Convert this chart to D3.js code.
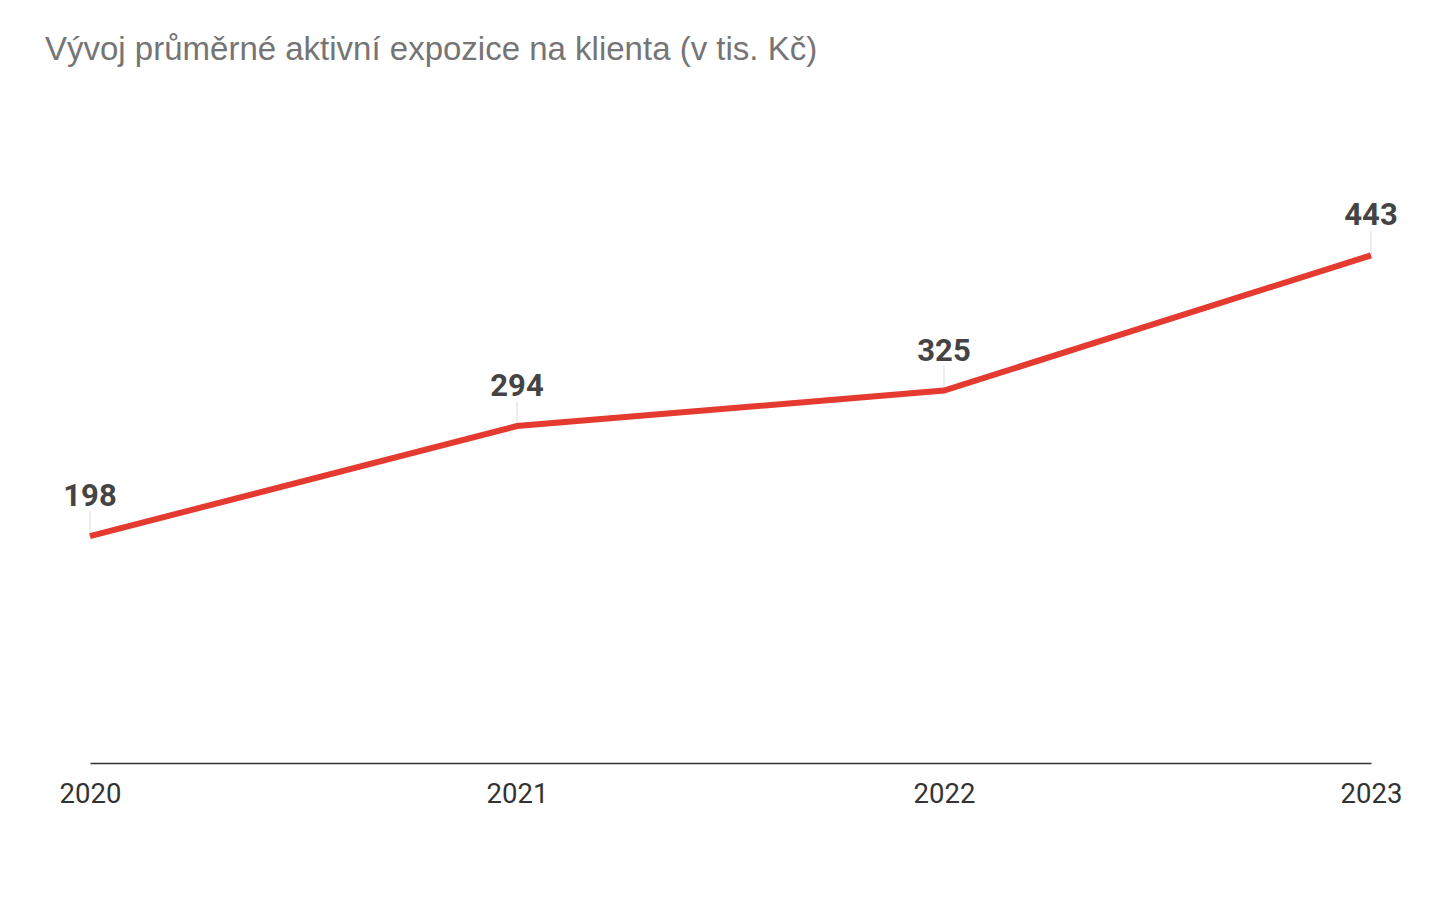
<!DOCTYPE html>
<html><head><meta charset="utf-8">
<script src="https://cdn.jsdelivr.net/npm/d3@7"></script>
<style>body{margin:0;background:#fff}svg{display:block}</style>
</head><body>
<svg id="c" width="1456" height="900"></svg>
<script>
const years = ["2020","2021","2022","2023"];
const values = [198, 294, 325, 443];
const title = "Vývoj průměrné aktivní expozice na klienta (v tis. Kč)";

const svg = d3.select("#c");
const m = {left:90, right:85, top:190, bottom:137};
const W = 1456, H = 900;
const x = d3.scalePoint().domain(years).range([m.left, W - m.right]);
const y = d3.scaleLinear().domain([0, 500]).range([H - m.bottom, m.top]);

svg.append("text").attr("x",45).attr("y",60)
  .attr("font-family","'Liberation Sans', Arial, sans-serif").attr("font-size",33)
  .attr("fill","#757575").text(title);

const ax = svg.append("g").attr("transform",`translate(0,${y(0)})`)
  .call(d3.axisBottom(x).tickSize(0).tickPadding(20));
ax.select(".domain").attr("stroke","#333").attr("stroke-width",1.5);
ax.selectAll("text").attr("font-family","Roboto, sans-serif").attr("font-size",27.5).attr("fill","#333");

const data = years.map((yr,i)=>({yr, v:values[i]}));

svg.selectAll(".lead").data(data).join("line")
  .attr("x1",d=>x(d.yr)).attr("x2",d=>x(d.yr))
  .attr("y1",d=>y(d.v)-25).attr("y2",d=>y(d.v))
  .attr("stroke","#ddd").attr("stroke-width",1);

svg.append("path").datum(data)
  .attr("d", d3.line().x(d=>x(d.yr)).y(d=>y(d.v)))
  .attr("fill","none").attr("stroke","#e53a2f").attr("stroke-width",6);

svg.selectAll(".lbl").data(data).join("text")
  .attr("x",d=>x(d.yr)).attr("y",d=>y(d.v)-30)
  .attr("text-anchor","middle").attr("font-family","Roboto, sans-serif")
  .attr("font-weight","bold").attr("font-size",31).attr("fill","#444")
  .text(d=>d.v);
</script>
</body></html>
